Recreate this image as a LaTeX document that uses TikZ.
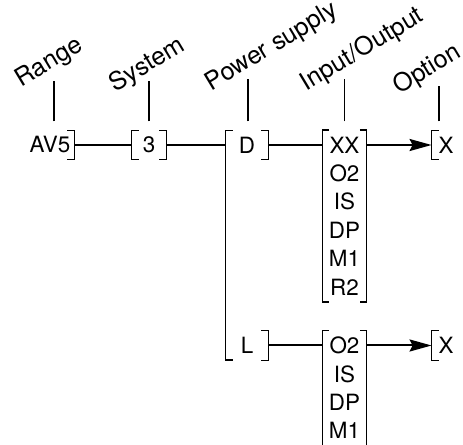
\documentclass[tikz,border=0pt]{standalone}
\usepackage{fontspec}
\setmainfont{TeX Gyre Heros}
\usetikzlibrary{arrows.meta}
\usetikzlibrary{fit}

\tikzset{
  entry/.style = {inner sep = 0, minimum height = 14.2pt,
    font = \fontsize{11.2}{13}\selectfont},
  heading/.style = {anchor = base west, rotate = 31, inner sep = 0,
    font = \fontsize{12.5}{15}\selectfont},
  link/.style = {line width = 1pt},
  pointer/.style = {link, -{Stealth[length = 11pt, width = 6pt, inset = 1.5pt]}},
  bracket/.style = {line width = 0.55pt},
  tick/.style = {line width = 0.55pt}
}

\newcommand{\openbr}[1]{\draw[bracket] ([xshift = 3.5pt]#1.north west) --
  (#1.north west) -- (#1.south west) -- ([xshift = 3.5pt]#1.south west);}
\newcommand{\closebr}[1]{\draw[bracket] ([xshift = -3.5pt]#1.north east) --
  (#1.north east) -- (#1.south east) -- ([xshift = -3.5pt]#1.south east);}

\begin{document}
\begin{tikzpicture}[x = 0.5pt, y = -0.5pt]
  \pgfmathsetmacro{\rowH}{28.4}
  \pgfmathsetmacro{\yD}{145}
  \pgfmathsetmacro{\yL}{345.5}
  \useasboundingbox (0, 0) rectangle (463, 445);

  % upper line
  \node[entry, minimum width = 24pt] (range) at (50, \yD) {AV5};
  \node[entry, minimum width = 17pt] (system) at (149, \yD) {3};
  \node[entry, minimum width = 21pt] (powerD) at (247, \yD) {D};
  \node[entry, minimum width = 21.5pt] (ioD1) at (344.5, \yD) {XX};
  \foreach \t [count = \i from 2] in {O2, IS, DP, M1, R2}{
    \node[entry, minimum width = 21.5pt] (ioD\i) at (344.5, {\yD + (\i - 1)*\rowH}) {\t};
  }
  \node[fit = (ioD1)(ioD6), inner sep = 0] (colD) {};
  \node[entry, minimum width = 14pt] (optD) at (446, \yD) {X};

  % lower line
  \node[entry, minimum width = 21pt] (powerL) at (247, \yL) {L};
  \node[entry, minimum width = 21.5pt] (ioL1) at (344.5, \yL) {O2};
  \foreach \t [count = \i from 2] in {IS, DP, M1}{
    \node[entry, minimum width = 21.5pt] (ioL\i) at (344.5, {\yL + (\i - 1)*\rowH}) {\t};
  }
  \node[fit = (ioL1)(ioL4), inner sep = 0] (colL) {};
  \node[entry, minimum width = 14pt] (optL) at (446, \yL) {X};

  % brackets
  \closebr{range}
  \openbr{system}
  \closebr{system}
  \draw[bracket, line width = 0.9pt] ([xshift = 3.5pt]powerD.north west) -- (powerD.north west)
  -- (powerL.south west) -- ([xshift = 3.5pt]powerL.south west);
  \closebr{powerD}
  \closebr{powerL}
  \openbr{colD}
  \closebr{colD}
  \openbr{colL}
  \closebr{colL}
  \openbr{optD}
  \openbr{optL}

  % connectors
  \draw[link] (range) -- (system);
  \draw[link] (system) -- (powerD);
  \draw[link] (powerD) -- (ioD1);
  \draw[pointer] (ioD1) -- (optD);
  \draw[link] (powerL) -- (ioL1);
  \draw[pointer] (ioL1) -- (optL);

  % ticks
  \foreach \n/\dx/\len in {range/4/40, system/0/40, powerD/1/42, ioD1/0/42, optD/-7/35}{
    \draw[tick] ([xshift = \dx*0.5pt, yshift = 4.5pt]\n.north) -- ++(0, -\len)
    coordinate (\n T);
  }
  \node[heading] (rangeH) at ([shift = {(-33, 6)}]rangeT) {Range};
  \node[heading] (systemH) at ([shift = {(-34, 11)}]systemT) {System};
  \node[heading] (powerH) at ([shift = {(-37, 12)}]powerDT) {Power supply};
  \node[heading] (ioH) at ([shift = {(-38, 12)}]ioD1T) {Input/Output};
  \node[heading] (optH) at ([shift = {(-40, 8)}]optDT) {Option};
\end{tikzpicture}
\end{document}
